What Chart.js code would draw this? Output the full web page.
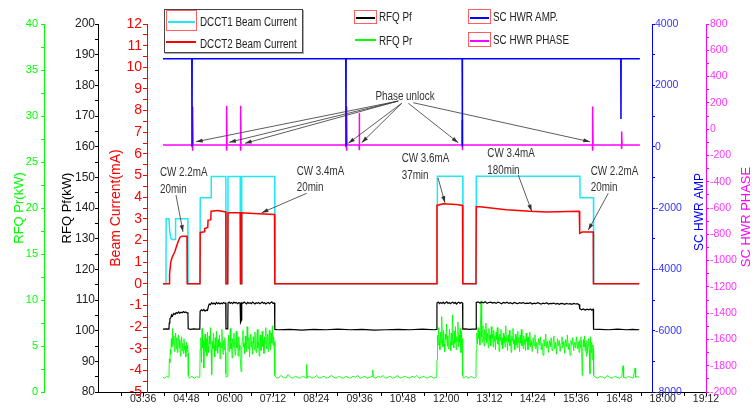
<!DOCTYPE html>
<html>
<head>
<meta charset="utf-8">
<script src="https://cdn.jsdelivr.net/npm/chart.js@4.4.1/dist/chart.umd.min.js"></script>
<style>
  html, body { margin: 0; padding: 0; background: #fff; }
  #wrap { position: relative; width: 752px; height: 413px; overflow: hidden; }
  #legend div, #legend span { position: absolute; box-sizing: border-box; }
  #legend span { font: 12px 'Liberation Sans', Arial, sans-serif; color: #222; line-height: 14px; white-space: nowrap;
    transform: scaleX(0.82); transform-origin: left center; }
</style>
</head>
<body>
<div id="wrap">
  <canvas id="chart" width="752" height="413"></canvas>
  <div id="legend"></div>
</div>
<script>
// time axis in minutes since 00:00
const xTickLabels = ['03:36', '04:48', '06:00', '07:12', '08:24', '09:36', '10:48',
  '12:00', '13:12', '14:24', '15:36', '16:48', '18:00', '19:12']

// DCCT2 beam current (mA)
const dcct2T = [249, 259.5, 260, 262, 264, 269, 272.4, 275, 277.3, 281, 289, 289.3, 310.6, 311, 318, 318.5,
  323.5, 324, 328.5, 329, 340, 353.5, 353.8, 356.7, 357.2, 377.5, 378, 379.5, 380, 400, 434.5, 435,
  704.2, 704.6, 715, 737, 747.2, 747.6, 769.5, 770, 776, 820, 859, 887, 941.3, 942, 946, 964.5, 964.8, 1041]
const dcct2V = [0, 0, 0.45, 1.0, 1.2, 1.5, 1.8, 2.0, 2.15, 2.2, 2.2, 0, 0, 2.37, 2.4, 2.55,
  2.6, 2.94, 2.95, 3.35, 3.38, 3.32, 0, 0, 3.28, 3.28, 0, 0, 3.28, 3.25, 3.2, 0,
  0, 3.62, 3.7, 3.66, 3.62, 0, 0, 3.56, 3.56, 3.42, 3.35, 3.32, 3.35, 2.33, 2.39, 2.39, 0, 0]

// DCCT1 beam current (mA)
const dcct1T = [249, 254, 254.3, 259, 260, 262, 264, 269.5, 270, 290.5, 290.8, 310.6, 311, 329, 329.3,
  353.6, 353.9, 356.8, 357.2, 377.5, 377.8, 379.7, 380, 434.8, 435.1, 705, 705.3, 747.6, 747.9,
  769.6, 770, 942.3, 942.6, 964.9, 965.2, 1041]
const dcct1V = [0, 0, 3.0, 3.0, 2.5, 2.1, 2.05, 2.05, 3.0, 3.0, 0, 0, 3.97, 3.97, 4.95,
  4.95, 0, 0, 4.95, 4.95, 0, 0, 4.95, 4.95, 0, 0, 4.97, 4.97, 0,
  0, 4.97, 4.97, 3.97, 3.97, 0, 0]

// RFQ forward power (kW)
const pfT = [249, 255, 259, 259.5, 260.5, 262, 263.5, 265, 267, 269, 271, 273, 275, 277, 279, 281, 283, 285, 287, 289, 290.5, 291,
  295, 300, 305, 310.3, 310.8, 313, 315, 317, 319, 321, 323, 325, 326, 328, 330, 332, 334, 336, 338, 340, 342, 344, 346, 348, 350, 352, 353.4, 353.8,
  356.8, 357.2, 359, 361, 363, 365, 367, 369, 371, 373, 375, 377.3, 378, 379.6, 380, 382, 384, 386, 388, 390, 392, 394, 396, 398, 400,
  402, 404, 406, 408, 410, 412, 414, 416, 418, 420, 422, 424, 426, 428, 430, 432, 434.5, 435,
  440, 460, 480, 500, 520, 540, 560, 580, 600, 620, 640, 660, 680, 700, 704.2,
  704.6, 707, 709, 711, 713, 715, 717, 719, 721, 723, 725, 727, 729, 731, 733, 735, 737, 739, 741, 743, 745, 747.2, 747.6,
  752, 758, 764, 769.6, 770, 773, 776, 779, 782, 785, 788, 791, 794, 797, 800, 803, 806, 809, 812, 815, 818, 821, 824, 827, 830,
  833, 836, 839, 842, 845, 848, 851, 854, 857, 860, 863, 866, 869, 872, 875, 878, 881, 884, 887, 890, 893, 896, 899, 902, 905,
  908, 911, 914, 917, 920, 923, 926, 929, 932, 935, 938, 941, 942, 945, 948, 951, 954, 957, 960, 962, 964.5, 965,
  975, 990, 1005, 1020, 1030, 1041]
const pfV = [100.5, 100.6, 100.5, 102.5, 103.8, 104.2, 105.2, 104.8, 105.6, 105.3, 105.9, 105.6, 106.1, 105.7, 106.0, 105.8, 106.2, 105.9, 106.1, 105.8, 106.0, 100.6,
  100.4, 100.6, 100.5, 100.5, 106.3, 106.8, 106.5, 106.9, 106.4, 106.7, 106.6, 108.2, 108.7, 108.5, 109.1, 108.7, 109.0, 108.6, 109.2, 108.8, 109.1, 108.7, 109.0, 108.8, 109.2, 108.9, 109.0, 100.6,
  100.6, 109.0, 109.3, 108.9, 109.2, 108.8, 109.3, 109.0, 109.2, 108.8, 109.1, 109.0, 102.7, 103.5, 109.1, 108.9, 109.3, 109.0, 108.7, 109.2, 108.9, 109.1, 108.8, 109.3, 109.0,
  108.7, 109.1, 108.9, 109.2, 108.8, 109.0, 109.3, 108.9, 109.1, 108.7, 109.0, 109.2, 108.8, 109.1, 109.4, 108.9, 109.0, 100.4,
  100.3, 100.4, 100.2, 100.4, 100.3, 100.5, 100.3, 100.4, 100.2, 100.3, 100.4, 100.3, 100.5, 100.3, 100.4,
  109.0, 109.3, 108.8, 109.2, 108.9, 109.3, 108.8, 109.1, 109.4, 108.9, 109.2, 108.8, 109.1, 109.3, 108.9, 109.2, 108.7, 109.1, 109.3, 108.9, 109.2, 109.0, 100.5,
  100.6, 100.4, 100.5, 100.5, 109.2, 109.4, 109.0, 109.3, 109.1, 109.4, 108.9, 109.2, 109.3, 109.0, 109.2, 108.9, 109.3, 109.1, 108.8, 109.2, 109.0, 109.3, 108.9, 109.1, 108.8,
  109.2, 109.0, 108.8, 109.1, 108.9, 109.2, 108.8, 109.0, 108.9, 109.1, 108.7, 109.0, 108.8, 109.1, 108.9, 108.7, 109.0, 108.8, 109.1, 108.7, 108.9, 108.8, 109.0, 108.7, 108.9,
  108.6, 108.9, 108.8, 108.6, 108.9, 108.7, 108.8, 108.6, 108.9, 108.7, 108.8, 108.5, 107.2, 106.8, 107.1, 106.7, 107.0, 106.8, 107.1, 106.7, 107.0, 100.5,
  100.4, 100.3, 100.5, 100.3, 100.4, 100.3]

// RFQ reflected power (kW)
const prT = [249, 252, 255, 258, 259, 259.7, 260.5, 261.3, 262, 263, 264, 265, 266, 267, 268, 269, 270, 271, 272, 273, 274, 275,
  276, 277, 278, 279, 280, 281, 282, 283, 284, 285, 286, 287, 288, 289, 290, 290.8, 291.2,
  293, 296, 299, 302, 305, 308, 310.3,
  310.8, 312, 313, 314, 315, 316, 317, 318, 319, 320, 321, 322, 323, 324, 325, 326, 327, 328, 329, 330, 331, 332, 333, 334, 335,
  336, 337, 338, 339, 340, 341, 342, 343, 344, 345, 346, 347, 348, 349, 350, 351, 352, 353, 353.6, 354.5, 356, 357, 358, 359, 360,
  361, 362, 363, 364, 365, 366, 367, 368, 369, 370, 371, 372, 373, 374, 375, 376, 377, 378, 379, 380, 381, 382, 383, 384, 385,
  386, 387, 388, 389, 390, 391, 392, 393, 394, 395, 396, 397, 398, 399, 400, 401, 402, 403, 404, 405, 406, 407, 408, 409, 410,
  411, 412, 413, 414, 415, 416, 417, 418, 419, 420, 421, 422, 423, 424, 425, 426, 427, 428, 429, 430, 431, 432, 433, 434, 434.8, 435.3,
  437, 441, 445, 449, 453, 457, 461, 465, 469, 473, 477, 481, 485, 487, 488, 489, 493, 497, 501, 505, 509, 513, 517, 521, 525,
  529, 533, 537, 541, 545, 549, 553, 557, 561, 565, 569, 573, 577, 581, 585, 589, 593, 597, 598, 599, 603, 607, 611, 615, 619,
  623, 627, 631, 635, 639, 643, 647, 651, 655, 659, 663, 667, 671, 675, 679, 683, 687, 691, 695, 699, 703, 704.3,
  704.7, 705.5, 706.5, 707.5, 708.5, 709.5, 710.5, 711.5, 712.5, 713.5, 714.5, 715.5, 716.5, 717.5, 718.5, 719.5, 720.5, 721.5,
  722.5, 723.5, 724.5, 725.5, 726.5, 727.5, 728.5, 729.5, 730.5, 731.5, 732.5, 733.5, 734.5, 735.5, 736.5, 737.5, 738.5, 739.5,
  740.5, 741.5, 742.5, 743.5, 744.5, 745.5, 746.5, 747.2, 747.6,
  749, 752, 755, 758, 761, 764, 767, 769.5,
  770, 771, 772, 773, 774, 775, 776, 777, 778, 779, 780, 781, 782, 783, 784, 785, 786, 787, 788, 789, 790, 791, 792, 793, 794,
  795, 796, 797, 798, 799, 800, 801, 802, 803, 804, 805, 806, 807, 808, 809, 810, 811, 812, 813, 814, 815, 816, 817, 818, 819,
  820, 821, 822, 823, 824, 825, 826, 827, 828, 829, 830, 831, 832, 833, 834, 835, 836, 837, 838, 839, 840, 841, 842, 843, 844,
  845, 846, 847, 848, 849, 850, 851, 852, 853, 854, 855, 856, 857, 858, 859, 860,
  861.5, 863, 864.5, 866, 867.5, 869, 870.5, 872, 873.5, 875, 876.5, 878, 879.5, 881, 882.5, 884, 885.5, 887, 888.5, 890,
  891.5, 893, 894.5, 896, 897.5, 899, 900.5, 902, 903.5, 905, 906.5, 908, 909.5, 911, 912.5, 914, 915.5, 917, 918.5, 920,
  921.5, 923, 924.5, 926, 927.5, 929, 930.5, 932, 933.5, 935, 936.5, 938, 939.5, 941,
  942, 943, 944, 945, 946, 947, 948, 949, 950, 951, 952, 953, 954, 955, 956, 957, 958, 959, 960, 961, 962, 963, 964, 964.8, 965.2,
  968, 972, 976, 980, 984, 988, 992, 996, 1000, 1004, 1008, 1012, 1014, 1015, 1019, 1023, 1027, 1031, 1034, 1035, 1038, 1041]
const prV = [1.6, 1.5, 1.7, 1.6, 1.8, 3.6, 3.2, 4.6, 4.1, 5.8, 4.9, 6.9, 5.2, 6.1, 4.4, 5.6, 6.4, 4.7, 5.9, 4.3, 5.4, 6.2,
  4.8, 5.7, 3.9, 5.1, 6.0, 4.5, 5.3, 4.2, 5.8, 4.6, 5.0, 3.8, 5.4, 4.4, 5.1, 4.2, 1.8,
  1.5, 1.7, 1.6, 1.5, 1.7, 1.6, 1.6,
  4.7, 5.9, 3.2, 6.9, 4.8, 5.6, 2.6, 5.2, 6.3, 4.4, 5.8, 3.9, 6.5, 5.0, 4.3, 6.1, 5.2, 7.0, 4.6, 1.9, 5.5, 4.7, 6.4, 5.1, 3.8,
  5.9, 4.5, 6.6, 5.3, 4.2, 5.7, 4.9, 6.2, 3.6, 5.4, 4.8, 6.8, 5.0, 4.1, 5.6, 4.6, 5.9, 4.3, 2.0, 1.6, 1.7, 4.9, 6.2, 4.4, 5.5,
  6.9, 4.7, 5.3, 3.7, 5.8, 4.9, 6.4, 5.2, 4.0, 5.7, 6.6, 4.8, 5.4, 3.9, 6.0, 5.1, 4.5, 3.0, 2.2, 4.6, 5.8, 6.7, 4.9, 5.3, 4.2,
  6.1, 5.0, 4.4, 7.1, 5.6, 4.7, 5.9, 3.8, 5.2, 6.3, 4.9, 5.5, 4.1, 6.0, 5.3, 4.6, 6.5, 5.0, 4.3, 5.8, 6.8, 4.8, 5.4, 3.9, 5.7,
  6.2, 4.5, 5.1, 6.6, 4.9, 5.6, 4.2, 6.0, 5.2, 7.0, 4.7, 5.5, 6.3, 4.4, 5.9, 6.7, 5.0, 4.6, 6.4, 5.3, 7.2, 5.1, 6.0, 4.8, 5.5, 1.8,
  1.6, 1.5, 1.8, 1.6, 1.5, 1.9, 1.6, 1.5, 1.7, 1.6, 1.5, 1.7, 1.6, 1.5, 3.0, 1.6, 1.7, 1.5, 1.6, 1.8, 1.5, 1.6, 1.7, 1.5, 1.6,
  1.8, 1.6, 1.5, 1.7, 1.6, 1.5, 1.7, 1.6, 1.5, 1.7, 1.6, 1.8, 1.5, 1.6, 1.7, 1.5, 1.6, 1.7, 2.4, 1.6, 1.5, 1.7, 1.6, 1.8, 1.5,
  1.6, 1.7, 1.5, 1.6, 1.8, 1.5, 1.6, 1.7, 1.6, 1.5, 1.7, 1.6, 1.8, 1.5, 1.6, 1.7, 1.5, 1.6, 1.7, 1.5, 1.6, 1.6,
  3.5, 6.2, 5.1, 7.0, 5.6, 4.6, 6.5, 5.3, 8.2, 5.8, 4.9, 6.7, 5.2, 4.4, 6.3, 5.7, 7.4, 5.0,
  6.1, 4.7, 5.9, 6.8, 5.4, 4.5, 6.4, 5.1, 8.4, 5.6, 4.8, 6.6, 5.3, 7.1, 4.6, 6.0, 5.5, 7.6,
  4.9, 6.2, 5.4, 6.9, 4.3, 6.5, 5.2, 5.8, 1.8,
  1.5, 1.7, 1.6, 1.5, 1.7, 1.6, 1.5, 1.6,
  4.5, 6.4, 5.2, 7.0, 5.8, 6.6, 5.1, 7.3, 9.9, 6.0, 5.4, 7.2, 6.1, 5.0, 6.8, 5.7, 7.5, 5.3, 6.4, 5.9, 4.8, 6.9, 5.6, 6.2, 5.0,
  7.1, 5.8, 6.3, 4.9, 6.7, 5.5, 6.1, 4.6, 6.5, 5.7, 7.0, 5.2, 6.0, 4.4, 6.3, 5.6, 6.8, 5.1, 5.9, 4.7, 6.4, 5.3, 6.1, 4.9, 7.2,
  5.5, 6.0, 4.5, 6.2, 5.4, 6.7, 5.0, 5.8, 4.3, 6.1, 5.6, 6.9, 5.2, 5.7, 4.6, 6.3, 5.1, 6.0, 4.8, 6.6, 5.4, 5.9, 4.4, 6.2, 5.3,
  6.8, 5.0, 5.6, 4.7, 6.1, 5.2, 5.8, 4.5, 6.4, 5.5, 5.9, 4.6, 6.0, 5.1, 6.5, 4.9,
  5.6, 4.4, 5.9, 5.0, 6.2, 4.7, 5.4, 4.2, 5.8, 5.1, 6.0, 4.6, 5.3, 4.0, 5.7, 5.0, 6.3, 4.8, 5.5, 4.3,
  5.6, 4.9, 5.9, 4.5, 5.2, 6.1, 4.7, 5.4, 4.1, 5.8, 5.0, 5.6, 4.4, 5.3, 6.0, 4.8, 5.5, 4.2, 5.7, 4.9,
  6.2, 4.6, 5.3, 4.0, 5.6, 5.1, 5.9, 4.5, 5.4, 4.8, 6.0, 4.7, 5.5, 4.3,
  5.6, 4.8, 6.0, 5.2, 1.8, 4.4, 5.7, 4.9, 6.1, 4.5, 5.3, 3.9, 5.6, 4.2, 5.0, 5.8, 4.6, 2.0, 6.0, 4.3, 5.4, 3.5, 5.1, 4.6, 1.8,
  1.6, 1.5, 1.7, 1.6, 1.5, 1.8, 1.6, 1.5, 1.7, 1.6, 1.5, 1.7, 2.85, 1.6, 1.5, 1.7, 1.6, 1.5, 2.6, 1.6, 1.7, 1.6]

// SC HWR amplitude
const ampT = [249, 297, 297.3, 297.6, 553, 553.3, 553.6, 746.5, 746.8, 747.1, 1010.3, 1010.6, 1010.9, 1042]
const ampV = [2870, 2870, 0, 2870, 2870, 0, 2870, 2870, 0, 2870, 2870, 900, 2870, 2870]

// SC HWR phase
const phT = [249, 297.9, 298.1, 298.4, 298.7, 299.1, 354.4, 354.6, 354.9, 355.2, 355.6, 377.7, 377.9, 378.2, 378.5, 378.9,
  553.9, 554.1, 554.4, 554.7, 555.1, 575.0, 575.2, 575.5, 575.8, 576.2, 746.2, 746.4, 746.7, 747.0, 747.4,
  963.0, 963.2, 963.5, 963.8, 964.2, 1011.3, 1011.5, 1011.8, 1012.1, 1012.5, 1042]
const phV = [-120, -120, 172, -165, 140, -120, -120, 178, -165, 150, -120, -120, 178, -165, 150, -120,
  -120, 172, -165, 140, -120, -120, 122, -160, 100, -120, -120, 72, -160, 50, -120,
  -120, 172, -165, 140, -120, -120, -17, -150, -40, -120, -120]

// notes: [time, beam mA] anchors on the beam current scale
const cwNotes = [
  { lines: ['CW 2.2mA', '20min'], at: [244, 5.13], from: [270.7, 4.1], to: [282.3, 2.4] },
  { lines: ['CW 3.4mA', '20min'], at: [471.4, 5.18], from: [488, 4.18], to: [413.2, 3.28] },
  { lines: ['CW 3.6mA', '37min'], at: [646, 5.76], from: [706.4, 4.89], to: [718, 3.74] },
  { lines: ['CW 3.4mA', '180min'], at: [788.3, 5.99], from: [839.9, 5.02], to: [862.2, 3.35] },
  { lines: ['CW 2.2mA', '20min'], at: [960.3, 5.18], from: [989.5, 4.18], to: [956.3, 2.48] },
]
// phase unlock arrows, on the phase scale
const unlockNote = { text: 'Phase unlock', at: [651.5, 247] }
const unlockArrows = [
  [[640.3, 214], [304, -96]], [[640.3, 214], [359.3, -100]], [[640.3, 214], [385.4, -108]],
  [[646, 197], [557.2, -108]], [[646, 197], [579.5, -103]],
  [[657, 197], [740, -103]], [[665.3, 201], [959.1, -96]],
]

const FONT = "'Liberation Sans', Arial, sans-serif"
const NARROW = 0.82 // horizontal squeeze to mimic the narrow font of the original

const toMin = (s) => { const [h, m] = s.split(':').map(Number); return h * 60 + m }
const fmt = (m) => String(Math.floor(m / 60)).padStart(2, '0') + ':' + String(m % 60).padStart(2, '0')
const zip = (t, v) => t.map((x, i) => ({ x: x, y: v[i] }))
const steps = (a, b, s) => { const out = []; for (let v = a; v <= b + 1e-9; v += s) out.push(Math.round(v * 1000) / 1000); return out }

const xMajor = xTickLabels.map(toMin)

function sideAxis(o) {
  return {
    type: 'linear', position: o.position, weight: o.weight, min: o.min, max: o.max,
    afterBuildTicks: (s) => { s.ticks = steps(o.min, o.max, o.minor).map((v) => ({ value: v })) },
    afterFit: (s) => { s.width = o.width },
    border: { color: o.color, width: 1 },
    grid: { drawOnChartArea: false, tickLength: o.tick, tickColor: o.color },
    ticks: {
      autoSkip: false, color: o.labelColor || o.color, padding: o.pad,
      font: { family: FONT, size: o.size },
      callback: (v) => (Math.abs(v / o.major - Math.round(v / o.major)) < 1e-6 ? String(v) : ''),
    },
    title: o.title
      ? { display: true, text: o.title, color: o.color, padding: { top: o.titlePad, bottom: 0 },
          font: { family: FONT, size: o.titleSize } }
      : { display: false },
  }
}

// stretch the time axis under the outer axes, like the original plot
const stretchX = {
  id: 'stretchX',
  afterLayout(chart) {
    const x = chart.scales.x
    x.left = chart.scales.pf.right
    x.right = chart.scales.phase.left
    x.width = x.right - x.left
    x.configure()
  },
}

function arrow(ctx, x1, y1, x2, y2) {
  const a = Math.atan2(y2 - y1, x2 - x1)
  ctx.beginPath(); ctx.moveTo(x1, y1); ctx.lineTo(x2, y2); ctx.stroke()
  ctx.beginPath()
  ctx.moveTo(x2, y2)
  ctx.lineTo(x2 - 7 * Math.cos(a - 0.3), y2 - 7 * Math.sin(a - 0.3))
  ctx.lineTo(x2 - 7 * Math.cos(a + 0.3), y2 - 7 * Math.sin(a + 0.3))
  ctx.closePath(); ctx.fill()
}

function narrowText(ctx, text, x, y) {
  ctx.save()
  ctx.translate(x, y)
  ctx.scale(NARROW, 1)
  ctx.fillText(text, 0, 0)
  ctx.restore()
}

const notes = {
  id: 'notes',
  afterDraw(chart) {
    const { ctx, scales } = chart
    const X = (t) => scales.x.getPixelForValue(t)
    ctx.save()
    ctx.fillStyle = '#333'; ctx.strokeStyle = '#333'; ctx.lineWidth = 0.8
    ctx.font = '12px ' + FONT
    ctx.textBaseline = 'middle'
    cwNotes.forEach((n) => {
      const x = X(n.at[0]); const y = scales.beam.getPixelForValue(n.at[1])
      ctx.textAlign = 'left'
      n.lines.forEach((l, i) => narrowText(ctx, l, x, y + i * 16.5))
      arrow(ctx, X(n.from[0]), scales.beam.getPixelForValue(n.from[1]), X(n.to[0]), scales.beam.getPixelForValue(n.to[1]))
    })
    ctx.textAlign = 'center'
    narrowText(ctx, unlockNote.text, X(unlockNote.at[0]), scales.phase.getPixelForValue(unlockNote.at[1]))
    unlockArrows.forEach(([a, b]) => arrow(ctx, X(a[0]), scales.phase.getPixelForValue(a[1]), X(b[0]), scales.phase.getPixelForValue(b[1])))

    // right-hand axis titles read bottom to top
    const rt = [[scales.amp, 'SC HWR AMP', '#0000ff', 12, 4], [scales.phase, 'SC HWR PHASE', '#ff00ff', 13, 9]]
    rt.forEach(([s, text, color, size, dy]) => {
      ctx.save()
      ctx.translate(s.right - 6, (s.top + s.bottom) / 2 + dy)
      ctx.rotate(-Math.PI / 2)
      ctx.font = size + 'px ' + FONT
      ctx.fillStyle = color
      ctx.textAlign = 'center'
      ctx.fillText(text, 0, 0)
      ctx.restore()
    })
    ctx.restore()
  },
}

const datasets = [
  { label: 'DCCT1 Beam Current', data: zip(dcct1T, dcct1V), yAxisID: 'beam', borderColor: '#22e8f4', borderWidth: 1.5, order: 1 },
  { label: 'DCCT2 Beam Current', data: zip(dcct2T, dcct2V), yAxisID: 'beam', borderColor: '#ff0000', borderWidth: 1.5, order: 0 },
  { label: 'RFQ Pf', data: zip(pfT, pfV), yAxisID: 'pf', borderColor: '#000000', borderWidth: 1.2, order: 2 },
  { label: 'RFQ Pr', data: zip(prT, prV), yAxisID: 'pr', borderColor: '#00ff00', borderWidth: 0.9, order: 3 },
  { label: 'SC HWR AMP.', data: zip(ampT, ampV), yAxisID: 'amp', borderColor: '#0000ff', borderWidth: 1.5, order: 4 },
  { label: 'SC HWR PHASE', data: zip(phT, phV), yAxisID: 'phase', borderColor: '#ff00ff', borderWidth: 1.5, order: 5 },
]

const chart = new Chart(document.getElementById('chart'), {
  type: 'line',
  data: { datasets: datasets },
  options: {
    responsive: false,
    animation: false,
    devicePixelRatio: 1,
    layout: { padding: { top: 24, left: 0, right: 0, bottom: 0 } },
    elements: { point: { radius: 0 }, line: { tension: 0 } },
    plugins: { legend: { display: false }, tooltip: { enabled: false } },
    scales: {
      x: {
        type: 'linear', min: 141, max: 1152,
        afterBuildTicks: (s) => { s.ticks = steps(180, 1152, 36).map((v) => ({ value: v })) },
        afterFit: (s) => { s.height = 21 },
        border: { color: '#000', width: 1 },
        grid: { drawOnChartArea: false, tickLength: 4, tickColor: '#000' },
        ticks: {
          autoSkip: false, maxRotation: 0, color: '#222', padding: -3,
          font: { family: FONT, size: 10.5 },
          callback: (v) => (xMajor.includes(v) ? fmt(v) : ''),
        },
      },
      beam: sideAxis({ position: 'left', weight: 0, min: -5, max: 12, minor: 0.5, major: 1, width: 49,
        color: '#ff0000', tick: 4, pad: 1, size: 14, title: 'Beam Current(mA)', titleSize: 14, titlePad: 10 }),
      pf: sideAxis({ position: 'left', weight: 1, min: 80, max: 200, minor: 5, major: 10, width: 54,
        color: '#000000', labelColor: '#222', tick: 3, pad: 0, size: 12, title: 'RFQ Pf(kW)', titleSize: 13, titlePad: 16 }),
      pr: sideAxis({ position: 'left', weight: 2, min: 0, max: 40, minor: 2.5, major: 5, width: 44,
        color: '#00ff00', tick: 3, pad: 3, size: 11, title: 'RFQ Pr(kW)', titleSize: 13, titlePad: 12 }),
      amp: sideAxis({ position: 'right', weight: 0, min: -8000, max: 4000, minor: 1000, major: 2000, width: 54,
        color: '#0000ff', labelColor: '#3333ff', tick: 3, pad: 0, size: 10.5 }),
      phase: sideAxis({ position: 'right', weight: 1, min: -2000, max: 800, minor: 100, major: 200, width: 46,
        color: '#ff00ff', labelColor: '#ff33ff', tick: 3, pad: 1, size: 10.5 }),
    },
  },
  plugins: [stretchX, notes],
})

// legend laid out like the original (symbol box, text position)
const legendSlots = [
  { sym: [166, 10, 31, 21], boxed: true, text: [200, 22] },
  { sym: [165, 35, 32, 14], boxed: false, text: [200, 44] },
  { sym: [354, 10, 23, 14], boxed: true, text: [379, 17] },
  { sym: [354, 33, 23, 14], boxed: false, text: [379, 41] },
  { sym: [468, 9, 23, 15], boxed: true, text: [493, 17] },
  { sym: [468, 32, 23, 15], boxed: true, text: [493, 40] },
]
const legend = document.getElementById('legend')
const frame = document.createElement('div')
Object.assign(frame.style, { left: '164px', top: '9px', width: '139px', height: '44px',
  border: '1px solid #444', background: '#fff', boxShadow: '1px 1px 0 #aaa' })
legend.appendChild(frame)
chart.data.datasets.forEach((ds, i) => {
  const slot = legendSlots[i]
  const [l, t, w, h] = slot.sym
  const box = document.createElement('div')
  Object.assign(box.style, { left: l + 'px', top: t + 'px', width: w + 'px', height: h + 'px',
    border: slot.boxed ? '1px solid #ff6060' : 'none' })
  const line = document.createElement('div')
  Object.assign(line.style, { left: '1px', right: '1px', top: (h / 2 - 1) + 'px', height: '2px', background: ds.borderColor })
  box.appendChild(line)
  legend.appendChild(box)
  const label = document.createElement('span')
  label.textContent = ds.label
  Object.assign(label.style, { left: slot.text[0] + 'px', top: (slot.text[1] - 7) + 'px' })
  legend.appendChild(label)
})
</script>
</body>
</html>
